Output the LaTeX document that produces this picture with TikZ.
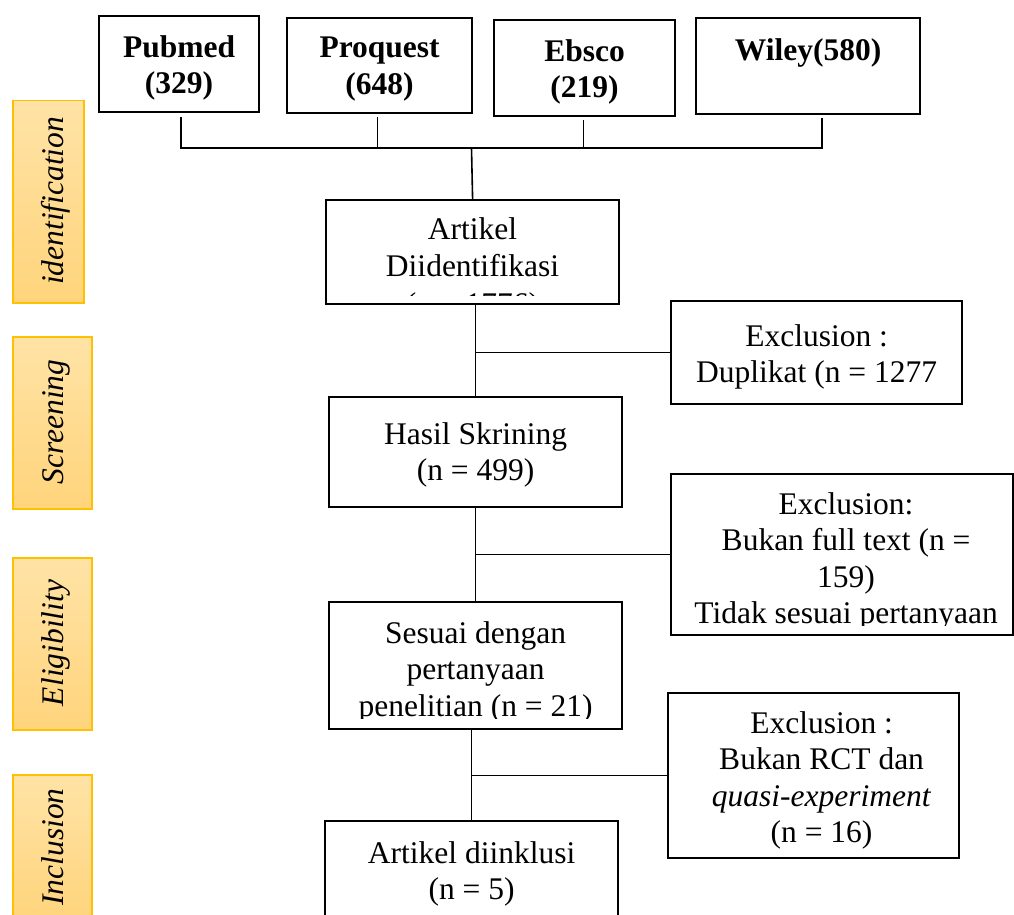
\documentclass[tikz,border=0pt]{standalone}
\usepackage{fontspec}
\setmainfont{Liberation Serif}
\usepackage{tikz}
\definecolor{stageBorder}{HTML}{FFC000}
\definecolor{stageTop}{HTML}{FFE3A6}
\definecolor{stageBottom}{HTML}{FFD47C}
\tikzstyle{prisma}=[x=1pt, y=-1pt, line width=1.6pt]
\tikzstyle{box}=[draw, line width=2.2pt, anchor=north west, inner sep=0pt]
\tikzstyle{txt}=[anchor=north, align=center, inner sep=0pt, font=\fontsize{31.5}{36.6}\selectfont]
\tikzstyle{dbtxt}=[txt, font=\fontsize{31.5}{36.6}\selectfont\bfseries]
\tikzstyle{stage}=[draw=stageBorder, line width=1.5pt, top color=stageTop, bottom color=stageBottom, anchor=north west, inner sep=0pt]
\tikzstyle{stageLabel}=[rotate=90, anchor=base, inner sep=0pt, font=\fontsize{31.5}{36}\selectfont\itshape]

\begin{document}
\begin{tikzpicture}[prisma]
	\useasboundingbox (0,0) rectangle (1014,915);

	\draw (12,100) node[stage, minimum width=71pt, minimum height=202pt] (identStage) {};
	\draw (12,336) node[stage, minimum width=79pt, minimum height=172pt] (screenStage) {};
	\draw (12,557) node[stage, minimum width=79pt, minimum height=172pt] (eligStage) {};
	\draw (12,774) node[stage, minimum width=79pt, minimum height=146pt] (inclStage) {};
	\draw (63,201) node[stageLabel] (identLabel) {identification};
	\draw (63,422) node[stageLabel] (screenLabel) {Screening};
	\draw (63,643) node[stageLabel] (eligLabel) {Eligibility};
	\draw (63,847) node[stageLabel] (inclLabel) {Inclusion};

	\draw (98,15) node[box, minimum width=160pt, minimum height=96pt] (pubmed) {};
	\draw (286,17) node[box, minimum width=185pt, minimum height=95pt] (proquest) {};
	\draw (493,19) node[box, minimum width=181pt, minimum height=96pt] (ebsco) {};
	\draw (695,17) node[box, minimum width=224pt, minimum height=96pt] (wiley) {};
	\draw ([yshift=-19.5pt]pubmed.north) node[dbtxt] (pubmedText) {Pubmed\\(329)};
	\draw ([yshift=-19.5pt]proquest.north) node[dbtxt] (proquestText) {Proquest\\(648)};
	\draw ([yshift=-19.5pt]ebsco.north) node[dbtxt] (ebscoText) {Ebsco\\(219)};
	\draw ([yshift=-20.5pt]wiley.north) node[dbtxt] (wileyText) {Wiley(580)};

	\draw (325,199) node[box, minimum width=293pt, minimum height=104pt] (ident) {};
	\draw (328,396) node[box, minimum width=293pt, minimum height=110pt] (hasil) {};
	\draw (328,601) node[box, minimum width=293pt, minimum height=127pt] (sesuai) {};
	\draw (324,820) node[box, minimum width=293pt, minimum height=110pt] (inkl) {};
	\draw (670,300) node[box, minimum width=291pt, minimum height=103pt] (dupl) {};
	\draw (670,473) node[box, minimum width=342pt, minimum height=161pt] (fulltext) {};
	\draw (667,692) node[box, minimum width=291pt, minimum height=165pt] (rct) {};

	\begin{scope}
		\clip (ident.north west) rectangle ([yshift=10pt]ident.south east);
		\draw ([yshift=-18pt]ident.north) node[txt, font=\fontsize{31.5}{37.2}\selectfont] (identText) {Artikel\\Diidentifikasi\\(n = 1776)};
	\end{scope}
	\draw ([yshift=-25.5pt]hasil.north) node[txt] (hasilText) {Hasil Skrining\\(n = 499)};
	\begin{scope}
		\clip (sesuai.north west) rectangle ([yshift=12pt]sesuai.south east);
		\draw ([yshift=-19.5pt]sesuai.north) node[txt] (sesuaiText) {Sesuai dengan\\pertanyaan\\penelitian (n = 21)};
	\end{scope}
	\draw ([yshift=-20.5pt]inkl.north) node[txt] (inklText) {Artikel diinklusi\\(n = 5)};
	\draw ([yshift=-23.5pt]dupl.north) node[txt] (duplText) {Exclusion :\\Duplikat (n = 1277};
	\begin{scope}
		\clip (fulltext.north west) rectangle ([yshift=11pt]fulltext.south east);
		\draw ([xshift=4pt,yshift=-18.5pt]fulltext.north) node[txt] (fulltextText) {Exclusion:\\Bukan full text (n =\\159)\\Tidak sesuai pertanyaan};
	\end{scope}
	\draw ([xshift=8pt,yshift=-18.5pt]rct.north) node[txt] (rctText) {Exclusion :\\Bukan RCT dan\\\textit{quasi-experiment}\\(n = 16)};

	\coordinate (bus) at (471.5,148);
	\draw ([xshift=2pt,yshift=-4pt]pubmed.south) |- ([xshift=14pt]wiley.south |- bus) -- ([xshift=14pt,yshift=-3pt]wiley.south);
	\draw ([xshift=-2pt,yshift=-3pt]proquest.south) -- ([xshift=-2pt]proquest.south |- bus);
	\draw ([xshift=-1pt,yshift=-3pt]ebsco.south) -- ([xshift=-1pt]ebsco.south |- bus);
	\draw (bus) -- (ident.north);
	\draw (hasil.north |- ident.south) -- (hasil.north);
	\draw (hasil.north |- dupl.west) -- (dupl.west);
	\draw (hasil.south) -- (sesuai.north);
	\draw (sesuai.north |- fulltext.west) -- (fulltext.west);
	\draw (inkl.north |- sesuai.south) -- (inkl.north);
	\draw (inkl.north |- rct.west) -- (rct.west);
\end{tikzpicture}
\end{document}
